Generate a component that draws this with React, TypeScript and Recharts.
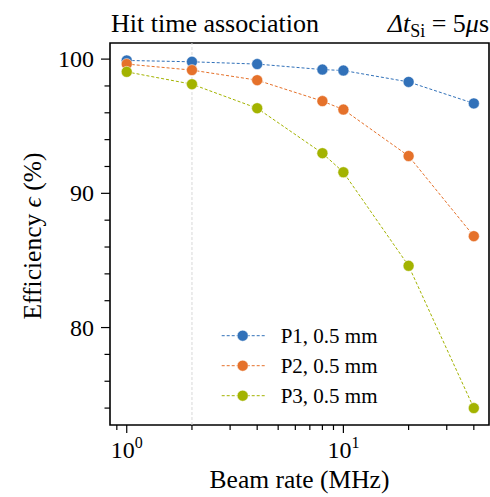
import React from 'react';
import { LineChart, Line, XAxis, YAxis, ReferenceLine, ReferenceArea, Legend, Label } from 'recharts';

const rates = [1, 2, 4, 8, 10, 20, 40];
const p1 = [99.9, 99.8, 99.63, 99.22, 99.15, 98.3, 96.7];
const p2 = [99.63, 99.18, 98.43, 96.87, 96.24, 92.78, 86.81];
const p3 = [99.05, 98.13, 96.34, 92.99, 91.57, 84.6, 74.0];
const seriesNames = ['P1, 0.5 mm', 'P2, 0.5 mm', 'P3, 0.5 mm'];
const colors = ['#3171b9', '#e5712a', '#a3b300'];
const xTicks = [0.9, 1, 2, 3, 4, 5, 6, 7, 8, 9, 10, 20, 30, 40];
const xMajor = [1, 10];
const yTicks = [74, 76, 78, 80, 82, 84, 86, 88, 90, 92, 94, 96, 98, 100];
const yMajor = [80, 90, 100];
const xDomain = [0.837, 47];
const yDomain = [72.74, 101.2];

const data = rates.map((r, i) => ({ rate: r, p1: p1[i], p2: p2[i], p3: p3[i] }));
const FONT = "'Liberation Serif', 'DejaVu Serif', serif";
const fs = (size: number) => ({ fontFamily: FONT, fontSize: size });

const XTick = (props: any) => {
  const { x, y, payload } = props;
  const v = payload.value;
  const major = xMajor.includes(v);
  return (
    <g>
      <line x1={x} x2={x} y1={y} y2={y + (major ? 8 : 5)} stroke="#000" strokeWidth={1.2} />
      {major && (
        <text x={x} y={y + 33} textAnchor="middle" style={fs(24)} fill="#000">
          10<tspan dy={-10} style={fs(16)}>{v === 1 ? '0' : '1'}</tspan>
        </text>
      )}
    </g>
  );
};

const YTick = (props: any) => {
  const { x, y, payload } = props;
  const v = payload.value;
  const major = yMajor.includes(v);
  return (
    <g>
      <line x1={x - (major ? 9 : 5.5)} x2={x} y1={y} y2={y} stroke="#000" strokeWidth={1.2} />
      {major && (
        <text x={x - 16} y={y} textAnchor="end" dominantBaseline="central" style={fs(24)} fill="#000">
          {v}
        </text>
      )}
    </g>
  );
};

const LegendContent = () => (
  <svg width={200} height={90}>
    {seriesNames.map((n, i) => {
      const cy = 15.7 + 30 * i;
      return (
        <g key={n}>
          <line x1={6.7} x2={50} y1={cy} y2={cy} stroke={colors[i]} strokeWidth={1} strokeDasharray="3 2" />
          <circle cx={27.7} cy={cy} r={5.5} fill={colors[i]} stroke="#fff" strokeWidth={0.5} />
          <text x={65.7} y={cy} dominantBaseline="central" style={fs(21)} fill="#000">{n}</text>
        </g>
      );
    })}
  </svg>
);

const keys = ['p1', 'p2', 'p3'];

export default function App() {
  return (
    <div style={{ position: 'absolute', left: 0, top: 0, width: 490, height: 497, background: '#fff', fontFamily: FONT }}>
      <LineChart width={490} height={497} data={data} margin={{ top: 43, right: 1, bottom: 0, left: 0 }}>
        <XAxis
          dataKey="rate"
          type="number"
          scale="log"
          domain={xDomain}
          allowDataOverflow
          ticks={xTicks}
          interval={0}
          tick={<XTick />}
          tickLine={false}
          axisLine={false}
          tickSize={0}
          tickMargin={0}
          height={72}
        >
          <Label
            content={() => (
              <text x={299.5} y={488} textAnchor="middle" style={fs(25.5)} fill="#000">
                Beam rate (MHz)
              </text>
            )}
          />
        </XAxis>
        <YAxis
          type="number"
          domain={yDomain}
          allowDataOverflow
          ticks={yTicks}
          interval={0}
          tick={<YTick />}
          tickLine={false}
          axisLine={false}
          tickSize={0}
          tickMargin={0}
          width={110}
        >
          <Label
            content={() => (
              <text x={32} y={236} transform="rotate(-90 32 236)" textAnchor="middle" dominantBaseline="central" style={fs(25.5)} fill="#000">
                Efficiency <tspan fontStyle="italic">ϵ</tspan> (%)
              </text>
            )}
          />
        </YAxis>
        <ReferenceLine x={2} stroke="#d8d8d8" strokeWidth={1} strokeDasharray="3 2" />
        {keys.map((k, i) => (
          <Line
            key={k}
            dataKey={k}
            name={seriesNames[i]}
            stroke={colors[i]}
            strokeWidth={1}
            strokeDasharray="3 2"
            dot={{ r: 5.5, fill: colors[i], stroke: '#fff', strokeWidth: 0.5, strokeDasharray: '' }}
            activeDot={false}
            isAnimationActive={false}
          />
        ))}
        <ReferenceArea
          x1={xDomain[0]}
          x2={xDomain[1]}
          y1={yDomain[0]}
          y2={yDomain[1]}
          fill="none"
          stroke="#000"
          strokeWidth={1.6}
          ifOverflow="visible"
        />
        <Legend
          layout="vertical"
          align="center"
          verticalAlign="middle"
          content={<LegendContent />}
          wrapperStyle={{ left: 215, top: 320, width: 200, height: 90 }}
        />
      </LineChart>
      <svg width={490} height={43} style={{ position: 'absolute', left: 0, top: 0, pointerEvents: 'none' }}>
        <text x={111} y={32} style={fs(26)} fill="#000">Hit time association</text>
        <text x={489} y={32} textAnchor="end" style={fs(26)} fill="#000">
          <tspan fontStyle="italic">Δt</tspan>
          <tspan style={fs(18)} dy={5}>Si</tspan>
          <tspan dy={-5}> = 5</tspan>
          <tspan fontStyle="italic">μ</tspan>
          <tspan>s</tspan>
        </text>
      </svg>
    </div>
  );
}
